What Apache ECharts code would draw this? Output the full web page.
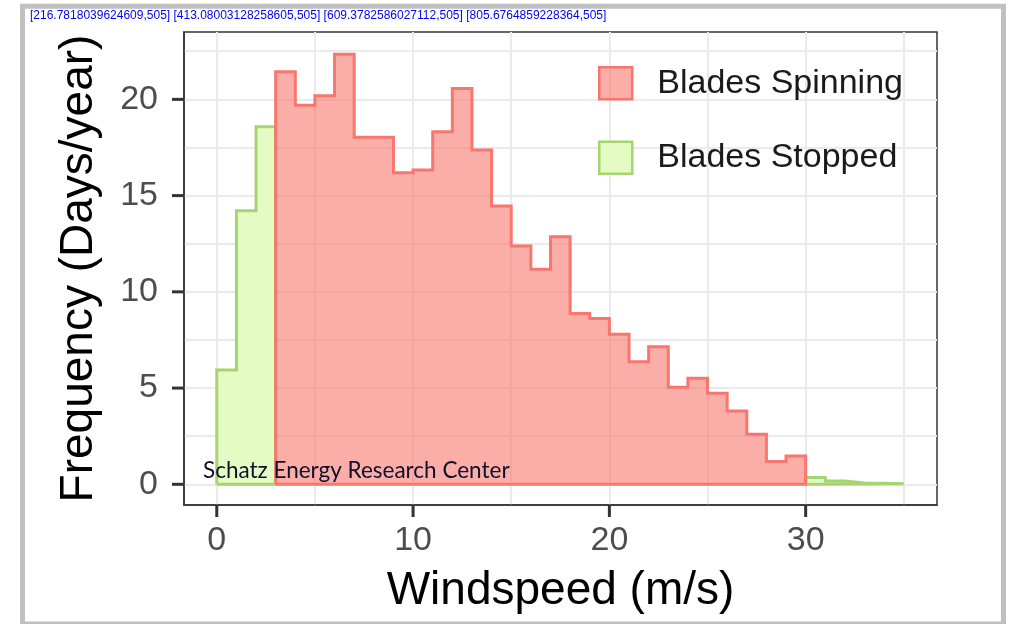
<!DOCTYPE html>
<html><head><meta charset="utf-8">
<script src="https://cdn.jsdelivr.net/npm/echarts@6/dist/echarts.min.js"></script>
<style>html,body{margin:0;padding:0;background:#fff}#c{width:1015px;height:624px}</style>
</head><body><div id="c"></div>
<script>
// ---- data (1 m/s bins, value = days/year) ----
const binStart = [0,1,2,3,4,5,6,7,8,9,10,11,12,13,14,15,16,17,18,19,20,21,22,23,24,25,26,27,28,29,30,31,32,33,34];
const binWidth = 1;
const spinning = [0,0,0,21.43,19.70,20.19,22.35,18.03,18.03,16.19,16.33,18.32,20.57,17.37,14.46,12.38,11.17,12.86,8.88,8.62,7.79,6.37,7.15,5.04,5.51,4.73,3.81,2.60,1.18,1.47,0,0,0,0,0];
const stopped  = [5.94,14.21,18.58,0,0,0,0,0,0,0,0,0,0,0,0,0,0,0,0,0,0,0,0,0,0,0,0,0,0,0,0.36,0.17,0.07,0.06,0.03];
const seriesNames = ['Blades Spinning','Blades Stopped'];
const xTickLabels = [0,10,20,30];
const xGrid = [0,5,10,15,20,25,30,35];
const yTickLabels = [0,5,10,15,20];
const yGrid = [0,2.5,5,7.5,10,12.5,15,17.5,20,22.5];
const xLabel = 'Windspeed (m/s)';
const yLabel = 'Frequency (Days/year)';
const watermark = 'Schatz Energy Research Center';

const styles = {
  'Blades Spinning': {stroke:'#F8766D', fill:'rgba(248,118,109,0.6)'},
  'Blades Stopped':  {stroke:'#a6d46e', fill:'#e4fcc4'}
};

function runs(vals){
  const out=[]; let s=-1;
  vals.forEach((v,i)=>{ if(v>0){ if(s<0) s=i; } else if(s>=0){ out.push([s,i-1]); s=-1; } });
  if(s>=0) out.push([s,vals.length-1]);
  return out;
}
function outline(vals,a,b){
  const pts=[[binStart[a],0]];
  for(let k=a;k<=b;k++){ pts.push([binStart[k],vals[k]]); pts.push([binStart[k]+binWidth,vals[k]]); }
  pts.push([binStart[b]+binWidth,0]);
  pts.push([binStart[a],0]);
  return pts;
}
function makeSeries(name, vals, z){
  const st=styles[name];
  return runs(vals).map(([a,b])=>({
    name, type:'line', data:outline(vals,a,b), showSymbol:false, symbol:'none',
    z, silent:true, animation:false,
    lineStyle:{color:st.stroke,width:3,join:'miter'},
    itemStyle:{color:st.fill,borderColor:st.stroke,borderWidth:2.5},
    areaStyle:{color:st.fill,opacity:1,origin:0}
  }));
}

const X_MIN=-1.67, X_MAX=36.69, Y_MIN=-1.075, Y_MAX=23.5;
const font='"Liberation Sans", Arial, sans-serif';
const TICK_LEN=12;

const chart=echarts.init(document.getElementById('c'),null,{renderer:'canvas'});
chart.setOption({
  animation:false,
  backgroundColor:'#ffffff',
  grid:{left:184,top:32,width:753,height:473,show:true,borderColor:'#333333',borderWidth:1.5},
  xAxis:[{
    type:'value',min:X_MIN,max:X_MAX,position:'bottom',
    axisLine:{show:true,onZero:false,lineStyle:{color:'#333333',width:1.5}},
    axisTick:{show:false,customValues:xTickLabels},
    axisLabel:{show:true,customValues:xTickLabels,fontSize:34,color:'#4d4d4d',fontFamily:font,margin:19},
    splitLine:{show:false},
    name:xLabel,nameLocation:'middle',nameGap:63,
    nameTextStyle:{fontSize:46,color:'#000000',fontFamily:font}
  },{
    type:'value',min:X_MIN,max:X_MAX,position:'top',
    axisLine:{show:false,onZero:false},axisTick:{show:false,customValues:xGrid},
    axisLabel:{show:false,customValues:xGrid},
    splitLine:{show:true,lineStyle:{color:'#ebebeb',width:2}}
  }],
  yAxis:[{
    type:'value',min:Y_MIN,max:Y_MAX,position:'left',
    axisLine:{show:true,onZero:false,lineStyle:{color:'#333333',width:1.5}},
    axisTick:{show:false,customValues:yTickLabels},
    axisLabel:{show:true,customValues:yTickLabels,fontSize:34,color:'#4d4d4d',fontFamily:font,margin:26},
    splitLine:{show:false},
    name:yLabel,nameLocation:'middle',nameGap:82,
    nameTextStyle:{fontSize:46,color:'#000000',fontFamily:font}
  },{
    type:'value',min:Y_MIN,max:Y_MAX,position:'right',
    axisLine:{show:false,onZero:false},axisTick:{show:false,customValues:yGrid},
    axisLabel:{show:false,customValues:yGrid},
    splitLine:{show:true,lineStyle:{color:'#ebebeb',width:2}}
  }],
  legend:{
    orient:'vertical',left:593,top:61,itemWidth:33,itemHeight:32,itemGap:40,selectedMode:false,
    textStyle:{fontSize:34,lineHeight:34,color:'#1a1a1a',fontFamily:font,padding:[0,0,0,20]},
    data:seriesNames.map(n=>({name:n,icon:'rect',itemStyle:{color:styles[n].fill,borderColor:styles[n].stroke,borderWidth:2.5}}))
  },
  series:[
    ...makeSeries('Blades Stopped',stopped,2),
    ...makeSeries('Blades Spinning',spinning,3)
  ]
});

// tick marks: positions come from the library's own axis scales
const tickEls=[];
let dbg='';
xTickLabels.forEach(v=>{
  const p=chart.convertToPixel({gridIndex:0},[v,Y_MIN]);
  dbg += JSON.stringify(p)+' ';
  tickEls.push({type:'rect',z:100,silent:true,shape:{x:p[0]-1.5,y:p[1],width:3,height:TICK_LEN},style:{fill:'#333333'}});
});
yTickLabels.forEach(v=>{
  const p=chart.convertToPixel({gridIndex:0},[X_MIN,v]);
  tickEls.push({type:'rect',z:100,silent:true,shape:{x:p[0]-TICK_LEN,y:p[1]-1.5,width:TICK_LEN,height:3},style:{fill:'#333333'}});
});

chart.setOption({
  graphic:[
    {type:'text',left:203,top:459,z:100,silent:true,
     style:{text:watermark,font:'22.5px Lato, "Open Sans", sans-serif',fill:'#10102a'}},
    {type:'rect',z:100,silent:true,shape:{x:22.5,y:6.3,width:981,height:617.7},
     style:{fill:'none',stroke:'#c0c0c0',lineWidth:5}},
    {type:'text',left:30,top:10,z:100,style:{text:dbg,font:'12px sans-serif',fill:'#00f'}},
    ...tickEls
  ]
});
</script></body></html>
